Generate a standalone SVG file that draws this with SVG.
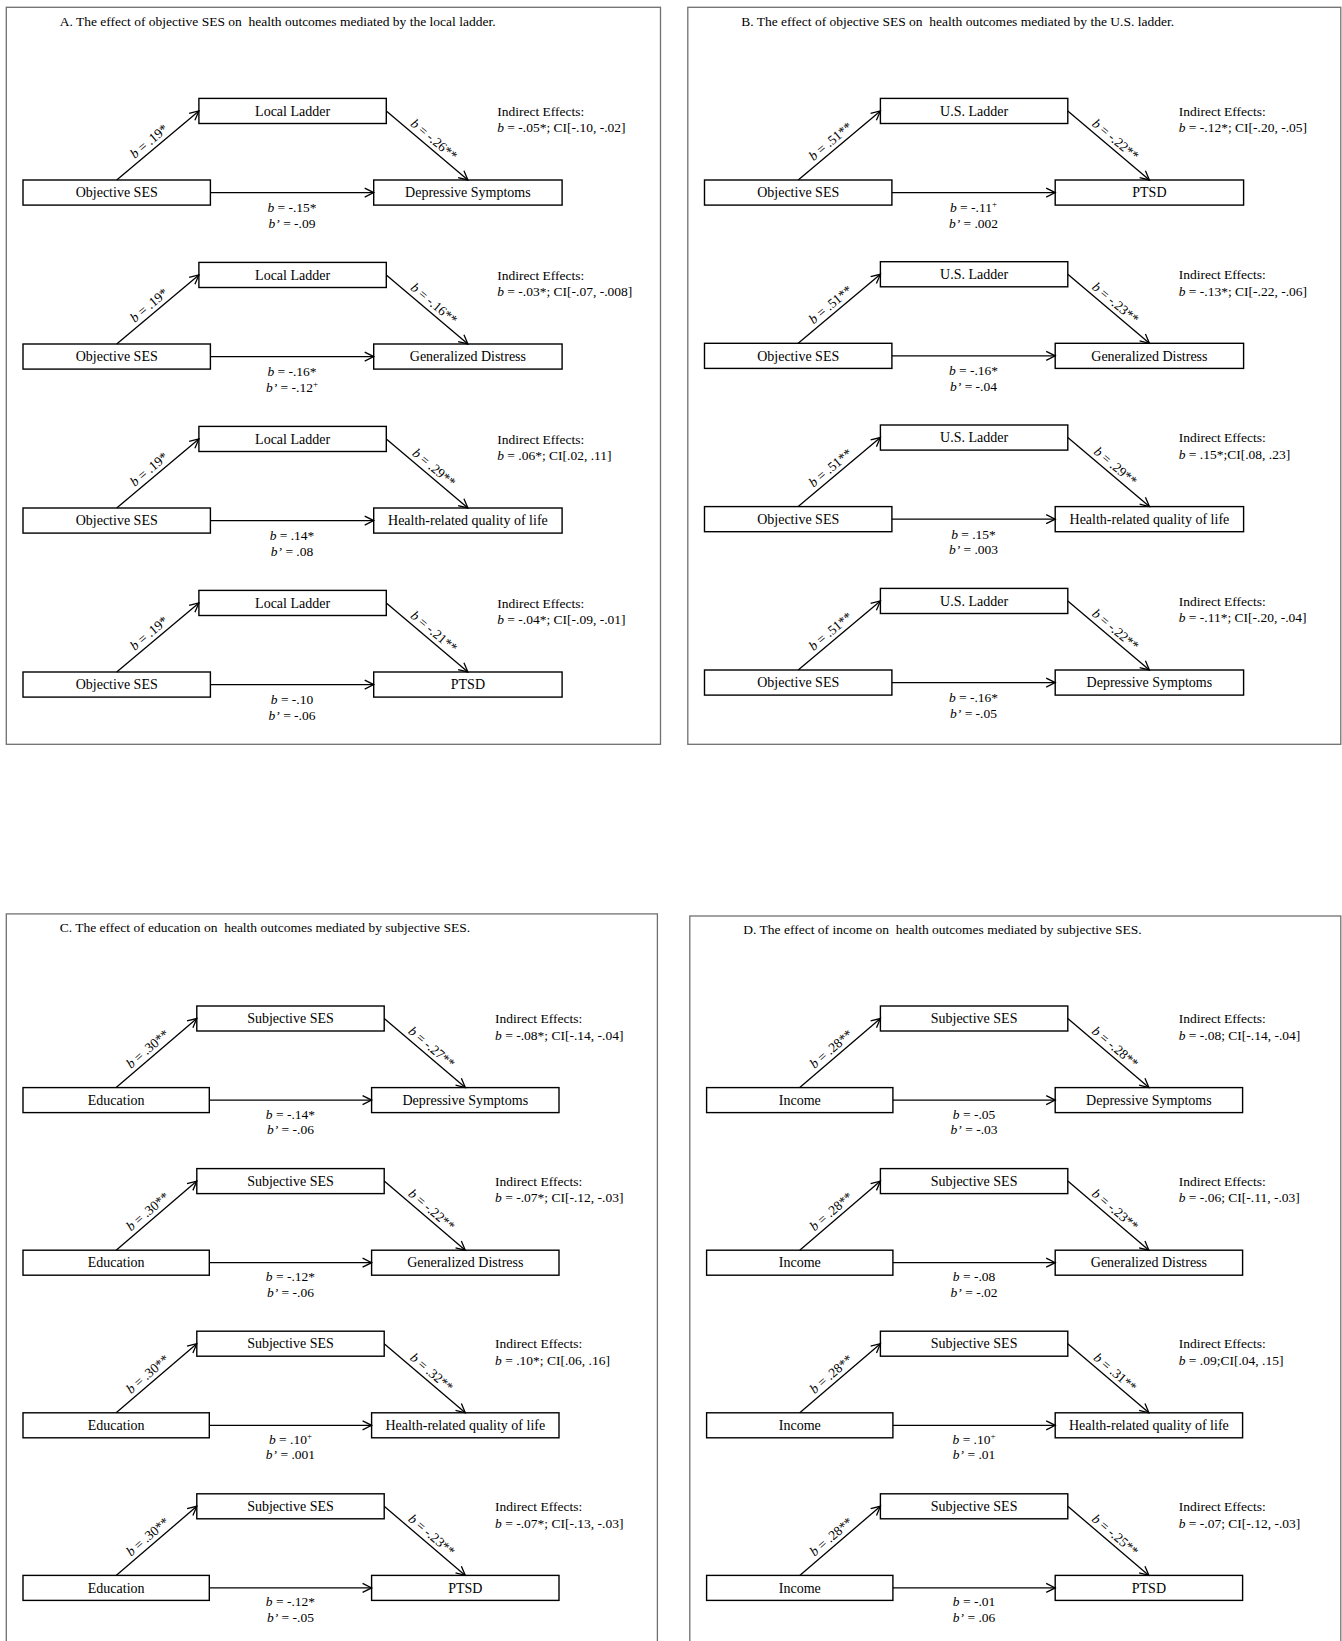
<svg xmlns="http://www.w3.org/2000/svg" width="1342" height="1641" viewBox="0 0 1342 1641">
<defs>
<style>
.panel{fill:none;stroke:#707070;stroke-width:1.3}
.box{fill:#fff;stroke:#000;stroke-width:1.4}
.edge{stroke:#000;stroke-width:1.3;fill:none;marker-end:url(#ah)}
text{font-family:"Liberation Serif","Times New Roman",serif;fill:#000}
.nt{font-size:14px;text-anchor:middle}
.lb{font-size:13.5px}
.ttl{font-size:13.5px;white-space:pre}
.mid{text-anchor:middle}
.i{font-style:italic}
.sup{font-size:9px}
</style>
<marker id="ah" markerWidth="12" markerHeight="12" refX="10" refY="6" orient="auto" markerUnits="userSpaceOnUse">
<path d="M1,1.5 L10,6 L1,10.5" fill="none" stroke="#000" stroke-width="1.3"/>
</marker>
</defs>
<rect x="0" y="0" width="1342" height="1641" fill="#fff"/>

<g id="panels">
<rect class="panel" x="6.3" y="7.3" width="654.2" height="737"/>
<rect class="panel" x="687.8" y="7.3" width="653" height="737"/>
<rect class="panel" x="6.3" y="913.9" width="651.1" height="800"/>
<rect class="panel" x="689.8" y="916" width="651" height="800"/>
<text class="ttl" x="59.7" y="25.5" xml:space="preserve">A. The effect of objective SES on  health outcomes mediated by the local ladder.</text>
<text class="ttl" x="741.2" y="25.5" xml:space="preserve">B. The effect of objective SES on  health outcomes mediated by the U.S. ladder.</text>
<text class="ttl" x="59.7" y="932.1" xml:space="preserve">C. The effect of education on  health outcomes mediated by subjective SES.</text>
<text class="ttl" x="743.3" y="933.5" xml:space="preserve">D. The effect of income on  health outcomes mediated by subjective SES.</text>
</g>

<g id="nodes">
<!-- Panel A -->
<g id="A1" transform="translate(0,0)">
<g id="A1-x"><rect class="box" x="23" y="180" width="187.4" height="25.1"/><text class="nt" x="116.7" y="197.3">Objective SES</text></g>
<g id="A1-m"><rect class="box" x="198.9" y="98.4" width="187.4" height="25.1"/><text class="nt" x="292.6" y="115.7">Local Ladder</text></g>
<g id="A1-y"><rect class="box" x="373.7" y="180" width="188.4" height="25.1"/><text class="nt" x="467.9" y="197.3">Depressive Symptoms</text></g>
<g id="A1-ie"><text class="lb" x="497.2" y="115.7">Indirect Effects:</text><text class="lb" x="497.2" y="132.3"><tspan class="i">b</tspan> = -.05*; CI[-.10, -.02]</text></g>
</g>
<g id="A2" transform="translate(0,164)">
<g id="A2-x"><rect class="box" x="23" y="180" width="187.4" height="25.1"/><text class="nt" x="116.7" y="197.3">Objective SES</text></g>
<g id="A2-m"><rect class="box" x="198.9" y="98.4" width="187.4" height="25.1"/><text class="nt" x="292.6" y="115.7">Local Ladder</text></g>
<g id="A2-y"><rect class="box" x="373.7" y="180" width="188.4" height="25.1"/><text class="nt" x="467.9" y="197.3">Generalized Distress</text></g>
<g id="A2-ie"><text class="lb" x="497.2" y="115.7">Indirect Effects:</text><text class="lb" x="497.2" y="132.3"><tspan class="i">b</tspan> = -.03*; CI[-.07, -.008]</text></g>
</g>
<g id="A3" transform="translate(0,328)">
<g id="A3-x"><rect class="box" x="23" y="180" width="187.4" height="25.1"/><text class="nt" x="116.7" y="197.3">Objective SES</text></g>
<g id="A3-m"><rect class="box" x="198.9" y="98.4" width="187.4" height="25.1"/><text class="nt" x="292.6" y="115.7">Local Ladder</text></g>
<g id="A3-y"><rect class="box" x="373.7" y="180" width="188.4" height="25.1"/><text class="nt" x="467.9" y="197.3">Health-related quality of life</text></g>
<g id="A3-ie"><text class="lb" x="497.2" y="115.7">Indirect Effects:</text><text class="lb" x="497.2" y="132.3"><tspan class="i">b</tspan> = .06*; CI[.02, .11]</text></g>
</g>
<g id="A4" transform="translate(0,492)">
<g id="A4-x"><rect class="box" x="23" y="180" width="187.4" height="25.1"/><text class="nt" x="116.7" y="197.3">Objective SES</text></g>
<g id="A4-m"><rect class="box" x="198.9" y="98.4" width="187.4" height="25.1"/><text class="nt" x="292.6" y="115.7">Local Ladder</text></g>
<g id="A4-y"><rect class="box" x="373.7" y="180" width="188.4" height="25.1"/><text class="nt" x="467.9" y="197.3">PTSD</text></g>
<g id="A4-ie"><text class="lb" x="497.2" y="115.7">Indirect Effects:</text><text class="lb" x="497.2" y="132.3"><tspan class="i">b</tspan> = -.04*; CI[-.09, -.01]</text></g>
</g>
<!-- Panel B -->
<g id="B1" transform="translate(681.5,0)">
<g id="B1-x"><rect class="box" x="23" y="180" width="187.4" height="25.1"/><text class="nt" x="116.7" y="197.3">Objective SES</text></g>
<g id="B1-m"><rect class="box" x="198.9" y="98.4" width="187.4" height="25.1"/><text class="nt" x="292.6" y="115.7">U.S. Ladder</text></g>
<g id="B1-y"><rect class="box" x="373.7" y="180" width="188.4" height="25.1"/><text class="nt" x="467.9" y="197.3">PTSD</text></g>
<g id="B1-ie"><text class="lb" x="497.2" y="115.7">Indirect Effects:</text><text class="lb" x="497.2" y="132.3"><tspan class="i">b</tspan> = -.12*; CI[-.20, -.05]</text></g>
</g>
<g id="B2" transform="translate(681.5,163.3)">
<g id="B2-x"><rect class="box" x="23" y="180" width="187.4" height="25.1"/><text class="nt" x="116.7" y="197.3">Objective SES</text></g>
<g id="B2-m"><rect class="box" x="198.9" y="98.4" width="187.4" height="25.1"/><text class="nt" x="292.6" y="115.7">U.S. Ladder</text></g>
<g id="B2-y"><rect class="box" x="373.7" y="180" width="188.4" height="25.1"/><text class="nt" x="467.9" y="197.3">Generalized Distress</text></g>
<g id="B2-ie"><text class="lb" x="497.2" y="115.7">Indirect Effects:</text><text class="lb" x="497.2" y="132.3"><tspan class="i">b</tspan> = -.13*; CI[-.22, -.06]</text></g>
</g>
<g id="B3" transform="translate(681.5,326.6)">
<g id="B3-x"><rect class="box" x="23" y="180" width="187.4" height="25.1"/><text class="nt" x="116.7" y="197.3">Objective SES</text></g>
<g id="B3-m"><rect class="box" x="198.9" y="98.4" width="187.4" height="25.1"/><text class="nt" x="292.6" y="115.7">U.S. Ladder</text></g>
<g id="B3-y"><rect class="box" x="373.7" y="180" width="188.4" height="25.1"/><text class="nt" x="467.9" y="197.3">Health-related quality of life</text></g>
<g id="B3-ie"><text class="lb" x="497.2" y="115.7">Indirect Effects:</text><text class="lb" x="497.2" y="132.3"><tspan class="i">b</tspan> = .15*;CI[.08, .23]</text></g>
</g>
<g id="B4" transform="translate(681.5,490)">
<g id="B4-x"><rect class="box" x="23" y="180" width="187.4" height="25.1"/><text class="nt" x="116.7" y="197.3">Objective SES</text></g>
<g id="B4-m"><rect class="box" x="198.9" y="98.4" width="187.4" height="25.1"/><text class="nt" x="292.6" y="115.7">U.S. Ladder</text></g>
<g id="B4-y"><rect class="box" x="373.7" y="180" width="188.4" height="25.1"/><text class="nt" x="467.9" y="197.3">Depressive Symptoms</text></g>
<g id="B4-ie"><text class="lb" x="497.2" y="115.7">Indirect Effects:</text><text class="lb" x="497.2" y="132.3"><tspan class="i">b</tspan> = -.11*; CI[-.20, -.04]</text></g>
</g>
<!-- Panel C -->
<g id="C1" transform="translate(0,0)">
<g id="C1-x"><rect class="box" x="23" y="1087.6" width="186.3" height="25"/><text class="nt" x="116.15" y="1104.9">Education</text></g>
<g id="C1-m"><rect class="box" x="196.8" y="1006" width="187.4" height="25"/><text class="nt" x="290.5" y="1023.3">Subjective SES</text></g>
<g id="C1-y"><rect class="box" x="371.6" y="1087.6" width="187.4" height="25"/><text class="nt" x="465.3" y="1104.9">Depressive Symptoms</text></g>
<g id="C1-ie"><text class="lb" x="495.1" y="1023.2">Indirect Effects:</text><text class="lb" x="495.1" y="1039.8"><tspan class="i">b</tspan> = -.08*; CI[-.14, -.04]</text></g>
</g>
<g id="C2" transform="translate(0,162.6)">
<g id="C2-x"><rect class="box" x="23" y="1087.6" width="186.3" height="25"/><text class="nt" x="116.15" y="1104.9">Education</text></g>
<g id="C2-m"><rect class="box" x="196.8" y="1006" width="187.4" height="25"/><text class="nt" x="290.5" y="1023.3">Subjective SES</text></g>
<g id="C2-y"><rect class="box" x="371.6" y="1087.6" width="187.4" height="25"/><text class="nt" x="465.3" y="1104.9">Generalized Distress</text></g>
<g id="C2-ie"><text class="lb" x="495.1" y="1023.2">Indirect Effects:</text><text class="lb" x="495.1" y="1039.8"><tspan class="i">b</tspan> = -.07*; CI[-.12, -.03]</text></g>
</g>
<g id="C3" transform="translate(0,325.2)">
<g id="C3-x"><rect class="box" x="23" y="1087.6" width="186.3" height="25"/><text class="nt" x="116.15" y="1104.9">Education</text></g>
<g id="C3-m"><rect class="box" x="196.8" y="1006" width="187.4" height="25"/><text class="nt" x="290.5" y="1023.3">Subjective SES</text></g>
<g id="C3-y"><rect class="box" x="371.6" y="1087.6" width="187.4" height="25"/><text class="nt" x="465.3" y="1104.9">Health-related quality of life</text></g>
<g id="C3-ie"><text class="lb" x="495.1" y="1023.2">Indirect Effects:</text><text class="lb" x="495.1" y="1039.8"><tspan class="i">b</tspan> = .10*; CI[.06, .16]</text></g>
</g>
<g id="C4" transform="translate(0,487.8)">
<g id="C4-x"><rect class="box" x="23" y="1087.6" width="186.3" height="25"/><text class="nt" x="116.15" y="1104.9">Education</text></g>
<g id="C4-m"><rect class="box" x="196.8" y="1006" width="187.4" height="25"/><text class="nt" x="290.5" y="1023.3">Subjective SES</text></g>
<g id="C4-y"><rect class="box" x="371.6" y="1087.6" width="187.4" height="25"/><text class="nt" x="465.3" y="1104.9">PTSD</text></g>
<g id="C4-ie"><text class="lb" x="495.1" y="1023.2">Indirect Effects:</text><text class="lb" x="495.1" y="1039.8"><tspan class="i">b</tspan> = -.07*; CI[-.13, -.03]</text></g>
</g>
<!-- Panel D -->
<g id="D1" transform="translate(683.6,0)">
<g id="D1-x"><rect class="box" x="23" y="1087.6" width="186.3" height="25"/><text class="nt" x="116.15" y="1104.9">Income</text></g>
<g id="D1-m"><rect class="box" x="196.8" y="1006" width="187.4" height="25"/><text class="nt" x="290.5" y="1023.3">Subjective SES</text></g>
<g id="D1-y"><rect class="box" x="371.6" y="1087.6" width="187.4" height="25"/><text class="nt" x="465.3" y="1104.9">Depressive Symptoms</text></g>
<g id="D1-ie"><text class="lb" x="495.1" y="1023.2">Indirect Effects:</text><text class="lb" x="495.1" y="1039.8"><tspan class="i">b</tspan> = -.08; CI[-.14, -.04]</text></g>
</g>
<g id="D2" transform="translate(683.6,162.6)">
<g id="D2-x"><rect class="box" x="23" y="1087.6" width="186.3" height="25"/><text class="nt" x="116.15" y="1104.9">Income</text></g>
<g id="D2-m"><rect class="box" x="196.8" y="1006" width="187.4" height="25"/><text class="nt" x="290.5" y="1023.3">Subjective SES</text></g>
<g id="D2-y"><rect class="box" x="371.6" y="1087.6" width="187.4" height="25"/><text class="nt" x="465.3" y="1104.9">Generalized Distress</text></g>
<g id="D2-ie"><text class="lb" x="495.1" y="1023.2">Indirect Effects:</text><text class="lb" x="495.1" y="1039.8"><tspan class="i">b</tspan> = -.06; CI[-.11, -.03]</text></g>
</g>
<g id="D3" transform="translate(683.6,325.2)">
<g id="D3-x"><rect class="box" x="23" y="1087.6" width="186.3" height="25"/><text class="nt" x="116.15" y="1104.9">Income</text></g>
<g id="D3-m"><rect class="box" x="196.8" y="1006" width="187.4" height="25"/><text class="nt" x="290.5" y="1023.3">Subjective SES</text></g>
<g id="D3-y"><rect class="box" x="371.6" y="1087.6" width="187.4" height="25"/><text class="nt" x="465.3" y="1104.9">Health-related quality of life</text></g>
<g id="D3-ie"><text class="lb" x="495.1" y="1023.2">Indirect Effects:</text><text class="lb" x="495.1" y="1039.8"><tspan class="i">b</tspan> = .09;CI[.04, .15]</text></g>
</g>
<g id="D4" transform="translate(683.6,487.8)">
<g id="D4-x"><rect class="box" x="23" y="1087.6" width="186.3" height="25"/><text class="nt" x="116.15" y="1104.9">Income</text></g>
<g id="D4-m"><rect class="box" x="196.8" y="1006" width="187.4" height="25"/><text class="nt" x="290.5" y="1023.3">Subjective SES</text></g>
<g id="D4-y"><rect class="box" x="371.6" y="1087.6" width="187.4" height="25"/><text class="nt" x="465.3" y="1104.9">PTSD</text></g>
<g id="D4-ie"><text class="lb" x="495.1" y="1023.2">Indirect Effects:</text><text class="lb" x="495.1" y="1039.8"><tspan class="i">b</tspan> = -.07; CI[-.12, -.03]</text></g>
</g>
</g>

<g id="connectors">
<!-- Panel A -->
<g transform="translate(0,0)">
<line class="edge" x1="116.7" y1="180" x2="198.9" y2="110.95"/><line class="edge" x1="386.3" y1="110.95" x2="467.9" y2="180"/><line class="edge" x1="210.4" y1="192.55" x2="373.7" y2="192.55"/>
<text class="lb mid" transform="translate(157.8,145.5) rotate(-40)" x="-4" y="-4.5"><tspan class="i">b</tspan> = .19*</text>
<text class="lb mid" transform="translate(427.1,145.5) rotate(40.2)" x="1.5" y="-4.5"><tspan class="i">b</tspan> = -.26**</text>
<text class="lb mid" x="292" y="212"><tspan class="i">b</tspan> = -.15*</text><text class="lb mid" x="292" y="227.6"><tspan class="i">b’</tspan> = -.09</text>
</g>
<g transform="translate(0,164)">
<line class="edge" x1="116.7" y1="180" x2="198.9" y2="110.95"/><line class="edge" x1="386.3" y1="110.95" x2="467.9" y2="180"/><line class="edge" x1="210.4" y1="192.55" x2="373.7" y2="192.55"/>
<text class="lb mid" transform="translate(157.8,145.5) rotate(-40)" x="-4" y="-4.5"><tspan class="i">b</tspan> = .19*</text>
<text class="lb mid" transform="translate(427.1,145.5) rotate(40.2)" x="1.5" y="-4.5"><tspan class="i">b</tspan> = -.16**</text>
<text class="lb mid" x="292" y="212"><tspan class="i">b</tspan> = -.16*</text><text class="lb mid" x="292" y="227.6"><tspan class="i">b’</tspan> = -.12<tspan class="sup" dy="-5">+</tspan></text>
</g>
<g transform="translate(0,328)">
<line class="edge" x1="116.7" y1="180" x2="198.9" y2="110.95"/><line class="edge" x1="386.3" y1="110.95" x2="467.9" y2="180"/><line class="edge" x1="210.4" y1="192.55" x2="373.7" y2="192.55"/>
<text class="lb mid" transform="translate(157.8,145.5) rotate(-40)" x="-4" y="-4.5"><tspan class="i">b</tspan> = .19*</text>
<text class="lb mid" transform="translate(427.1,145.5) rotate(40.2)" x="1.5" y="-4.5"><tspan class="i">b</tspan> = .29**</text>
<text class="lb mid" x="292" y="212"><tspan class="i">b</tspan> = .14*</text><text class="lb mid" x="292" y="227.6"><tspan class="i">b’</tspan> = .08</text>
</g>
<g transform="translate(0,492)">
<line class="edge" x1="116.7" y1="180" x2="198.9" y2="110.95"/><line class="edge" x1="386.3" y1="110.95" x2="467.9" y2="180"/><line class="edge" x1="210.4" y1="192.55" x2="373.7" y2="192.55"/>
<text class="lb mid" transform="translate(157.8,145.5) rotate(-40)" x="-4" y="-4.5"><tspan class="i">b</tspan> = .19*</text>
<text class="lb mid" transform="translate(427.1,145.5) rotate(40.2)" x="1.5" y="-4.5"><tspan class="i">b</tspan> = -.21**</text>
<text class="lb mid" x="292" y="212"><tspan class="i">b</tspan> = -.10</text><text class="lb mid" x="292" y="227.6"><tspan class="i">b’</tspan> = -.06</text>
</g>
<!-- Panel B -->
<g transform="translate(681.5,0)">
<line class="edge" x1="116.7" y1="180" x2="198.9" y2="110.95"/><line class="edge" x1="386.3" y1="110.95" x2="467.9" y2="180"/><line class="edge" x1="210.4" y1="192.55" x2="373.7" y2="192.55"/>
<text class="lb mid" transform="translate(157.8,145.5) rotate(-40)" x="-4" y="-4.5"><tspan class="i">b</tspan> = .51**</text>
<text class="lb mid" transform="translate(427.1,145.5) rotate(40.2)" x="1.5" y="-4.5"><tspan class="i">b</tspan> = -.22**</text>
<text class="lb mid" x="292" y="212"><tspan class="i">b</tspan> = -.11<tspan class="sup" dy="-5">+</tspan></text><text class="lb mid" x="292" y="227.6"><tspan class="i">b’</tspan> = .002</text>
</g>
<g transform="translate(681.5,163.3)">
<line class="edge" x1="116.7" y1="180" x2="198.9" y2="110.95"/><line class="edge" x1="386.3" y1="110.95" x2="467.9" y2="180"/><line class="edge" x1="210.4" y1="192.55" x2="373.7" y2="192.55"/>
<text class="lb mid" transform="translate(157.8,145.5) rotate(-40)" x="-4" y="-4.5"><tspan class="i">b</tspan> = .51**</text>
<text class="lb mid" transform="translate(427.1,145.5) rotate(40.2)" x="1.5" y="-4.5"><tspan class="i">b</tspan> = -.23**</text>
<text class="lb mid" x="292" y="212"><tspan class="i">b</tspan> = -.16*</text><text class="lb mid" x="292" y="227.6"><tspan class="i">b’</tspan> = -.04</text>
</g>
<g transform="translate(681.5,326.6)">
<line class="edge" x1="116.7" y1="180" x2="198.9" y2="110.95"/><line class="edge" x1="386.3" y1="110.95" x2="467.9" y2="180"/><line class="edge" x1="210.4" y1="192.55" x2="373.7" y2="192.55"/>
<text class="lb mid" transform="translate(157.8,145.5) rotate(-40)" x="-4" y="-4.5"><tspan class="i">b</tspan> = .51**</text>
<text class="lb mid" transform="translate(427.1,145.5) rotate(40.2)" x="1.5" y="-4.5"><tspan class="i">b</tspan> = .29**</text>
<text class="lb mid" x="292" y="212"><tspan class="i">b</tspan> = .15*</text><text class="lb mid" x="292" y="227.6"><tspan class="i">b’</tspan> = .003</text>
</g>
<g transform="translate(681.5,490)">
<line class="edge" x1="116.7" y1="180" x2="198.9" y2="110.95"/><line class="edge" x1="386.3" y1="110.95" x2="467.9" y2="180"/><line class="edge" x1="210.4" y1="192.55" x2="373.7" y2="192.55"/>
<text class="lb mid" transform="translate(157.8,145.5) rotate(-40)" x="-4" y="-4.5"><tspan class="i">b</tspan> = .51**</text>
<text class="lb mid" transform="translate(427.1,145.5) rotate(40.2)" x="1.5" y="-4.5"><tspan class="i">b</tspan> = -.22**</text>
<text class="lb mid" x="292" y="212"><tspan class="i">b</tspan> = -.16*</text><text class="lb mid" x="292" y="227.6"><tspan class="i">b’</tspan> = -.05</text>
</g>
<!-- Panel C -->
<g transform="translate(0,0)">
<line class="edge" x1="116.15" y1="1087.6" x2="196.8" y2="1018.5"/><line class="edge" x1="384.2" y1="1018.5" x2="465.3" y2="1087.6"/><line class="edge" x1="209.3" y1="1100.1" x2="371.6" y2="1100.1"/>
<text class="lb mid" transform="translate(156.5,1053.05) rotate(-40.6)" x="-4" y="-4.5"><tspan class="i">b</tspan> = .30**</text>
<text class="lb mid" transform="translate(424.75,1053.05) rotate(40.4)" x="1.5" y="-4.5"><tspan class="i">b</tspan> = -.27**</text>
<text class="lb mid" x="290.45" y="1118.6"><tspan class="i">b</tspan> = -.14*</text><text class="lb mid" x="290.45" y="1134.2"><tspan class="i">b’</tspan> = -.06</text>
</g>
<g transform="translate(0,162.6)">
<line class="edge" x1="116.15" y1="1087.6" x2="196.8" y2="1018.5"/><line class="edge" x1="384.2" y1="1018.5" x2="465.3" y2="1087.6"/><line class="edge" x1="209.3" y1="1100.1" x2="371.6" y2="1100.1"/>
<text class="lb mid" transform="translate(156.5,1053.05) rotate(-40.6)" x="-4" y="-4.5"><tspan class="i">b</tspan> = .30**</text>
<text class="lb mid" transform="translate(424.75,1053.05) rotate(40.4)" x="1.5" y="-4.5"><tspan class="i">b</tspan> = -.22**</text>
<text class="lb mid" x="290.45" y="1118.6"><tspan class="i">b</tspan> = -.12*</text><text class="lb mid" x="290.45" y="1134.2"><tspan class="i">b’</tspan> = -.06</text>
</g>
<g transform="translate(0,325.2)">
<line class="edge" x1="116.15" y1="1087.6" x2="196.8" y2="1018.5"/><line class="edge" x1="384.2" y1="1018.5" x2="465.3" y2="1087.6"/><line class="edge" x1="209.3" y1="1100.1" x2="371.6" y2="1100.1"/>
<text class="lb mid" transform="translate(156.5,1053.05) rotate(-40.6)" x="-4" y="-4.5"><tspan class="i">b</tspan> = .30**</text>
<text class="lb mid" transform="translate(424.75,1053.05) rotate(40.4)" x="1.5" y="-4.5"><tspan class="i">b</tspan> = .32**</text>
<text class="lb mid" x="290.45" y="1118.6"><tspan class="i">b</tspan> = .10<tspan class="sup" dy="-5">+</tspan></text><text class="lb mid" x="290.45" y="1134.2"><tspan class="i">b’</tspan> = .001</text>
</g>
<g transform="translate(0,487.8)">
<line class="edge" x1="116.15" y1="1087.6" x2="196.8" y2="1018.5"/><line class="edge" x1="384.2" y1="1018.5" x2="465.3" y2="1087.6"/><line class="edge" x1="209.3" y1="1100.1" x2="371.6" y2="1100.1"/>
<text class="lb mid" transform="translate(156.5,1053.05) rotate(-40.6)" x="-4" y="-4.5"><tspan class="i">b</tspan> = .30**</text>
<text class="lb mid" transform="translate(424.75,1053.05) rotate(40.4)" x="1.5" y="-4.5"><tspan class="i">b</tspan> = -.23**</text>
<text class="lb mid" x="290.45" y="1118.6"><tspan class="i">b</tspan> = -.12*</text><text class="lb mid" x="290.45" y="1134.2"><tspan class="i">b’</tspan> = -.05</text>
</g>
<!-- Panel D -->
<g transform="translate(683.6,0)">
<line class="edge" x1="116.15" y1="1087.6" x2="196.8" y2="1018.5"/><line class="edge" x1="384.2" y1="1018.5" x2="465.3" y2="1087.6"/><line class="edge" x1="209.3" y1="1100.1" x2="371.6" y2="1100.1"/>
<text class="lb mid" transform="translate(156.5,1053.05) rotate(-40.6)" x="-4" y="-4.5"><tspan class="i">b</tspan> = .28**</text>
<text class="lb mid" transform="translate(424.75,1053.05) rotate(40.4)" x="1.5" y="-4.5"><tspan class="i">b</tspan> = -.28**</text>
<text class="lb mid" x="290.45" y="1118.6"><tspan class="i">b</tspan> = -.05</text><text class="lb mid" x="290.45" y="1134.2"><tspan class="i">b’</tspan> = -.03</text>
</g>
<g transform="translate(683.6,162.6)">
<line class="edge" x1="116.15" y1="1087.6" x2="196.8" y2="1018.5"/><line class="edge" x1="384.2" y1="1018.5" x2="465.3" y2="1087.6"/><line class="edge" x1="209.3" y1="1100.1" x2="371.6" y2="1100.1"/>
<text class="lb mid" transform="translate(156.5,1053.05) rotate(-40.6)" x="-4" y="-4.5"><tspan class="i">b</tspan> = .28**</text>
<text class="lb mid" transform="translate(424.75,1053.05) rotate(40.4)" x="1.5" y="-4.5"><tspan class="i">b</tspan> = -.23**</text>
<text class="lb mid" x="290.45" y="1118.6"><tspan class="i">b</tspan> = -.08</text><text class="lb mid" x="290.45" y="1134.2"><tspan class="i">b’</tspan> = -.02</text>
</g>
<g transform="translate(683.6,325.2)">
<line class="edge" x1="116.15" y1="1087.6" x2="196.8" y2="1018.5"/><line class="edge" x1="384.2" y1="1018.5" x2="465.3" y2="1087.6"/><line class="edge" x1="209.3" y1="1100.1" x2="371.6" y2="1100.1"/>
<text class="lb mid" transform="translate(156.5,1053.05) rotate(-40.6)" x="-4" y="-4.5"><tspan class="i">b</tspan> = .28**</text>
<text class="lb mid" transform="translate(424.75,1053.05) rotate(40.4)" x="1.5" y="-4.5"><tspan class="i">b</tspan> = .31**</text>
<text class="lb mid" x="290.45" y="1118.6"><tspan class="i">b</tspan> = .10<tspan class="sup" dy="-5">+</tspan></text><text class="lb mid" x="290.45" y="1134.2"><tspan class="i">b’</tspan> = .01</text>
</g>
<g transform="translate(683.6,487.8)">
<line class="edge" x1="116.15" y1="1087.6" x2="196.8" y2="1018.5"/><line class="edge" x1="384.2" y1="1018.5" x2="465.3" y2="1087.6"/><line class="edge" x1="209.3" y1="1100.1" x2="371.6" y2="1100.1"/>
<text class="lb mid" transform="translate(156.5,1053.05) rotate(-40.6)" x="-4" y="-4.5"><tspan class="i">b</tspan> = .28**</text>
<text class="lb mid" transform="translate(424.75,1053.05) rotate(40.4)" x="1.5" y="-4.5"><tspan class="i">b</tspan> = -.25**</text>
<text class="lb mid" x="290.45" y="1118.6"><tspan class="i">b</tspan> = -.01</text><text class="lb mid" x="290.45" y="1134.2"><tspan class="i">b’</tspan> = .06</text>
</g>
</g>
</svg>
